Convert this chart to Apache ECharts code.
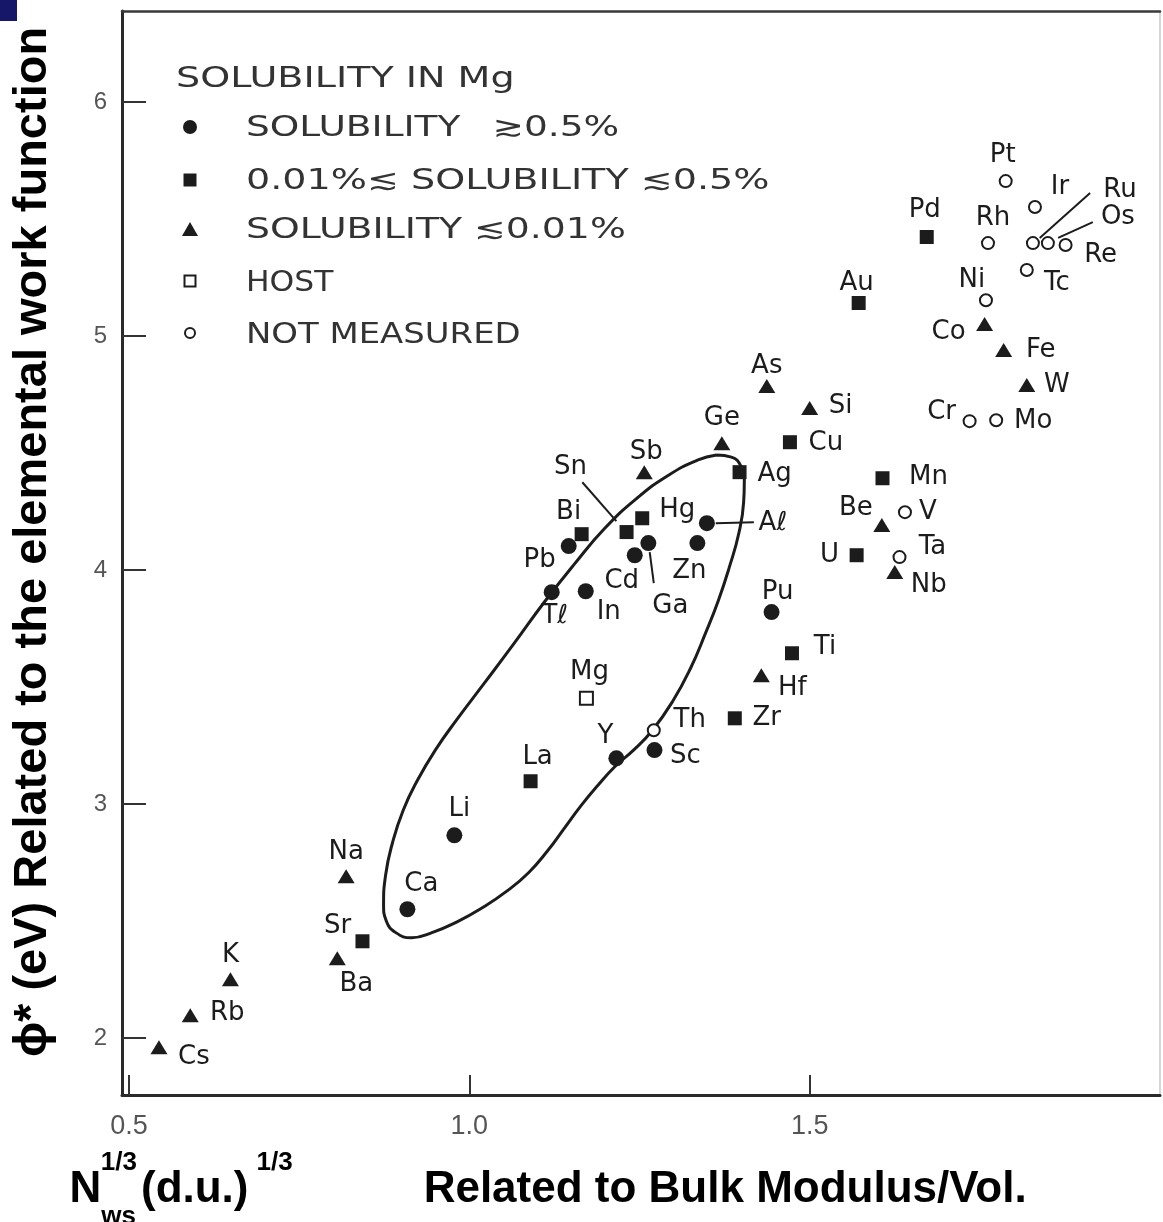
<!DOCTYPE html>
<html>
<head>
<meta charset="utf-8">
<script src="https://cdn.jsdelivr.net/npm/echarts@6.0.0/dist/echarts.min.js"></script>
<style>
html,body{margin:0;padding:0;background:#fff;}
#chart{width:1163px;height:1222px;}
</style>
</head>
<body>
<div id="chart"></div>
<script>
// ---------- data ----------
const xTicks = [0.5, 1.0, 1.5];
const yTicks = [2, 3, 4, 5, 6];
const legendTitle = 'SOLUBILITY IN Mg';
const seriesNames = ['SOLUBILITY ≳0.5%', '0.01%≲ SOLUBILITY ≲0.5%', 'SOLUBILITY ≲0.01%', 'HOST', 'NOT MEASURED'];

// [element, N_ws^1/3, phi*]
const solubleHigh = [
  ['Ca',0.909,2.550],['Li',0.978,2.866],['Y',1.216,3.195],['Sc',1.272,3.230],
  ['Tℓ',1.121,3.905],['In',1.171,3.909],['Cd',1.243,4.063],['Ga',1.263,4.115],
  ['Pb',1.146,4.102],['Aℓ',1.349,4.200],['Zn',1.335,4.115],['Pu',1.444,3.820]
];
const solubleMid = [
  ['Sr',0.843,2.413],['La',1.090,3.097],['Bi',1.165,4.153],['Sn',1.231,4.162],
  ['Hg',1.254,4.221],['Ag',1.397,4.418],['Cu',1.471,4.546],['Au',1.572,5.141],
  ['Pd',1.672,5.423],['Mn',1.607,4.392],['U',1.569,4.063],['Ti',1.474,3.644],
  ['Zr',1.390,3.366]
];
const solubleLow = [
  ['Cs',0.544,1.960],['Rb',0.590,2.097],['K',0.649,2.251],['Na',0.819,2.691],
  ['Ba',0.806,2.340],['Sb',1.257,4.418],['Ge',1.371,4.542],['As',1.437,4.786],
  ['Si',1.500,4.692],['Be',1.606,4.192],['Nb',1.625,3.991],['Hf',1.429,3.550],
  ['Co',1.757,5.051],['Fe',1.785,4.940],['W',1.819,4.790]
];
const hostElement = [['Mg',1.172,3.452]];
const notMeasured = [
  ['Th',1.271,3.315],['V',1.640,4.247],['Ta',1.632,4.055],['Cr',1.735,4.636],
  ['Mo',1.774,4.640],['Ni',1.759,5.153],['Rh',1.762,5.397],['Pt',1.788,5.662],
  ['Ir',1.831,5.551],['Ru',1.828,5.397],['Os',1.850,5.397],['Re',1.876,5.389],
  ['Tc',1.819,5.282]
];
// closed outline around the soluble group (data units)
const outline = [
  [1.363,4.491],[1.385,4.482],[1.399,4.444],[1.404,4.380],[1.403,4.290],[1.396,4.158],
  [1.382,4.012],[1.366,3.871],[1.347,3.730],[1.325,3.580],[1.299,3.440],[1.269,3.315],
  [1.242,3.232],[1.214,3.160],[1.189,3.080],[1.165,2.996],[1.140,2.898],[1.115,2.800],
  [1.087,2.706],[1.054,2.625],[1.019,2.556],[0.982,2.496],[0.946,2.451],[0.915,2.428],
  [0.892,2.450],[0.878,2.500],[0.874,2.568],[0.877,2.696],[0.887,2.833],[0.903,2.974],
  [0.924,3.102],[0.950,3.230],[0.981,3.358],[1.022,3.516],[1.066,3.687],[1.110,3.862],
  [1.154,4.024],[1.199,4.178],[1.246,4.306],[1.292,4.404],[1.335,4.469],[1.363,4.491]
];
// leader lines joining a label to its mark (data units)
const leaderLines = [
  [[1.166,4.375],[1.216,4.209]],   // Sn
  [[1.265,4.076],[1.271,3.944]],   // Ga
  [[1.362,4.200],[1.418,4.204]],   // Al
  [[1.838,5.419],[1.912,5.611]],   // Ru
  [[1.865,5.419],[1.916,5.487]]    // Os
];

// ---------- style / layout (not data) ----------
const X_MIN = 0.4897, X_MAX = 2.0147, Y_MIN = 1.756, Y_MAX = 6.389;
const INK = '#1c1c1c';
const LABEL_FONT = 'DejaVu Sans';
const TITLE_FONT = 'Liberation Sans';
const LABEL_OFFSET = {
  Cs:[35,10], Rb:[37,-2], K:[0,-24], Na:[0,-24], Sr:[-25,-15], Ba:[19,26], Ca:[14,-25],
  Li:[5,-26], La:[7,-24], Y:[-11,-22], Sc:[31,6], Th:[36,-10], Mg:[3,-26], 'Tℓ':[3,24],
  In:[23,21], Cd:[-13,26], Ga:[22,63], Pb:[-29,14], Bi:[-13,-22], Sn:[-56,-65], Hg:[35,-8],
  Sb:[2,-20], Ge:[0,-25], Ag:[35,2], 'Aℓ':[66,0], Zn:[-8,28], Cu:[36,1], As:[0,-20],
  Si:[31,-2], Pu:[6,-20], Ti:[33,-6], Hf:[31,13], Zr:[32,0], U:[-27,0], Ta:[33,-10],
  Nb:[34,13], Be:[-26,-17], V:[23,0], Mn:[46,-1], Cr:[-28,-9], Mo:[37,1], W:[30,0],
  Fe:[37,0], Co:[-36,8], Ni:[-14,-20], Au:[-2,-20], Pd:[-2,-27], Rh:[5,-25], Pt:[-3,-26],
  Ir:[25,-20], Ru:[87,-53], Os:[70,-26], Re:[35,10], Tc:[30,13]
};

function toItems(arr) {
  return arr.map(function (d) {
    return { name: d[0], value: [d[1], d[2]], label: { offset: LABEL_OFFSET[d[0]] || [0, -24] } };
  });
}

function scatter(name, arr, symbol, size, extraStyle) {
  return {
    name: name, type: 'scatter', xAxisIndex: 0, yAxisIndex: 0,
    symbol: symbol, symbolSize: size, z: 5,
    itemStyle: Object.assign({ color: INK, opacity: 1 }, extraStyle || {}),
    label: {
      show: true, position: 'inside', formatter: '{b}', color: INK,
      fontFamily: LABEL_FONT, fontSize: 26, textBorderWidth: 0
    },
    emphasis: { disabled: true },
    data: toItems(arr)
  };
}

const legendText = { fontSize: 28, fontFamily: 'DejaVu Sans', fill: '#333' };
const legendRows = [
  { y: 129, scale: 1.34 }, { y: 182, scale: 1.36 }, { y: 231, scale: 1.35 },
  { y: 284, scale: 1.12 }, { y: 336, scale: 1.21 }
];

const graphic = [
  { type: 'rect', shape: { x: 0, y: 0, width: 17, height: 21 }, style: { fill: '#17176a' } },
  { type: 'text', x: 176, y: 80, scaleX: 1.36,
    style: { text: legendTitle, font: '28px "DejaVu Sans"', fill: '#333', align: 'left', verticalAlign: 'middle' } },
  { type: 'circle', shape: { cx: 190, cy: 127, r: 7 }, style: { fill: INK } },
  { type: 'rect', shape: { x: 183.5, y: 173.5, width: 13, height: 13 }, style: { fill: INK } },
  { type: 'polygon', shape: { points: [[190, 222], [198, 236], [182, 236]] }, style: { fill: INK } },
  { type: 'rect', shape: { x: 184.5, y: 275.5, width: 11, height: 11 }, style: { fill: '#fff', stroke: INK, lineWidth: 2 } },
  { type: 'circle', shape: { cx: 190, cy: 333, r: 5 }, style: { fill: '#fff', stroke: INK, lineWidth: 2 } }
];
seriesNames.forEach(function (t, i) {
  const el = { type: 'text', x: 246, y: legendRows[i].y, scaleX: legendRows[i].scale,
    style: { text: t, font: '28px "DejaVu Sans"', fill: '#333', align: 'left', verticalAlign: 'middle' } };
  if (i === 0) {
    // wider gap before the relation sign, as in the original lettering
    el.style.text = '{a|SOLUBILITY }{b|≳0.5%}';
    el.style.rich = {
      a: Object.assign({}, legendText),
      b: Object.assign({ padding: [0, 0, 0, 15] }, legendText)
    };
  }
  graphic.push(el);
});

const chart = echarts.init(document.getElementById('chart'), null, { renderer: 'canvas' });
chart.setOption({
  animation: false,
  backgroundColor: '#ffffff',
  grid: { left: 122, right: 3, top: 11, bottom: 127, containLabel: false, outerBoundsMode: 'none' },
  xAxis: [{
    type: 'value', min: X_MIN, max: X_MAX, position: 'bottom',
    axisLine: { show: true, onZero: false, lineStyle: { color: '#2a2a2a', width: 3 } },
    axisTick: { show: true, inside: true, length: 20, customValues: xTicks, lineStyle: { color: '#333', width: 2 } },
    axisLabel: { show: true, customValues: xTicks, formatter: function (v) { return v.toFixed(1); },
      fontFamily: TITLE_FONT, fontSize: 27, color: '#555', margin: 18 },
    splitLine: { show: false },
    name: '{n|N}{sub|ws}{sup|1/3}{p|(d.u.)}{sup2|1/3}{r|Related to Bulk Modulus/Vol.}',
    nameLocation: 'middle', nameGap: 55,
    nameTextStyle: {
      padding: [0, 186, 0, 0],
      rich: {
        n: { fontFamily: TITLE_FONT, fontWeight: 'bold', fontSize: 44, lineHeight: 80, color: '#000' },
        sub: { fontFamily: TITLE_FONT, fontWeight: 'bold', fontSize: 26, lineHeight: 34, verticalAlign: 'bottom', color: '#000' },
        sup: { fontFamily: TITLE_FONT, fontWeight: 'bold', fontSize: 26, lineHeight: 20, verticalAlign: 'top', color: '#000', padding: [0, 0, 0, -35] },
        p: { fontFamily: TITLE_FONT, fontWeight: 'bold', fontSize: 44, lineHeight: 80, color: '#000', padding: [0, 0, 0, 4] },
        sup2: { fontFamily: TITLE_FONT, fontWeight: 'bold', fontSize: 26, lineHeight: 20, verticalAlign: 'top', color: '#000', padding: [0, 0, 0, 8] },
        r: { fontFamily: TITLE_FONT, fontWeight: 'bold', fontSize: 44, lineHeight: 80, color: '#000', padding: [0, 0, 0, 131] }
      }
    }
  }, {
    type: 'value', min: X_MIN, max: X_MAX, position: 'top',
    axisLine: { show: true, onZero: false, lineStyle: { color: '#3a3a3a', width: 2.5 } },
    axisTick: { show: false }, axisLabel: { show: false }, splitLine: { show: false }
  }],
  yAxis: [{
    type: 'value', min: Y_MIN, max: Y_MAX, position: 'left',
    axisLine: { show: true, onZero: false, lineStyle: { color: '#2a2a2a', width: 3 } },
    axisTick: { show: true, inside: true, length: 24, customValues: yTicks, lineStyle: { color: '#333', width: 2 } },
    axisLabel: { show: true, customValues: yTicks, fontFamily: TITLE_FONT, fontSize: 24, color: '#555', margin: 15 },
    splitLine: { show: false },
    name: 'ϕ* (eV) Related to the elemental work function',
    nameLocation: 'middle', nameRotate: 90, nameGap: 65,
    nameTextStyle: { fontFamily: TITLE_FONT + ', DejaVu Sans', fontWeight: 'bold', fontSize: 47, color: '#000', padding: [0, 0, 0, 22] }
  }, {
    type: 'value', min: Y_MIN, max: Y_MAX, position: 'right',
    axisLine: { show: true, onZero: false, lineStyle: { color: '#c8c8c8', width: 1.5 } },
    axisTick: { show: false }, axisLabel: { show: false }, splitLine: { show: false }
  }],
  graphic: graphic,
  series: [
    {
      name: 'outline', type: 'line', xAxisIndex: 0, yAxisIndex: 0,
      data: outline, smooth: 0.5, showSymbol: false, symbol: 'none', z: 2,
      lineStyle: { color: INK, width: 3 }, emphasis: { disabled: true }, silent: true
    },
    {
      name: 'leaders', type: 'lines', coordinateSystem: 'cartesian2d', xAxisIndex: 0, yAxisIndex: 0,
      z: 3, silent: true,
      lineStyle: { color: INK, width: 2, opacity: 1 },
      data: leaderLines.map(function (s) { return { coords: s }; })
    },
    scatter(seriesNames[0], solubleHigh, 'circle', 16),
    scatter(seriesNames[1], solubleMid, 'rect', 14),
    scatter(seriesNames[2], solubleLow, 'triangle', [17, 14]),
    scatter(seriesNames[3], hostElement, 'emptyRect', 13, { borderWidth: 2, borderColor: INK }),
    scatter(seriesNames[4], notMeasured, 'emptyCircle', 12, { borderWidth: 2, borderColor: INK })
  ]
});
</script>
</body>
</html>
